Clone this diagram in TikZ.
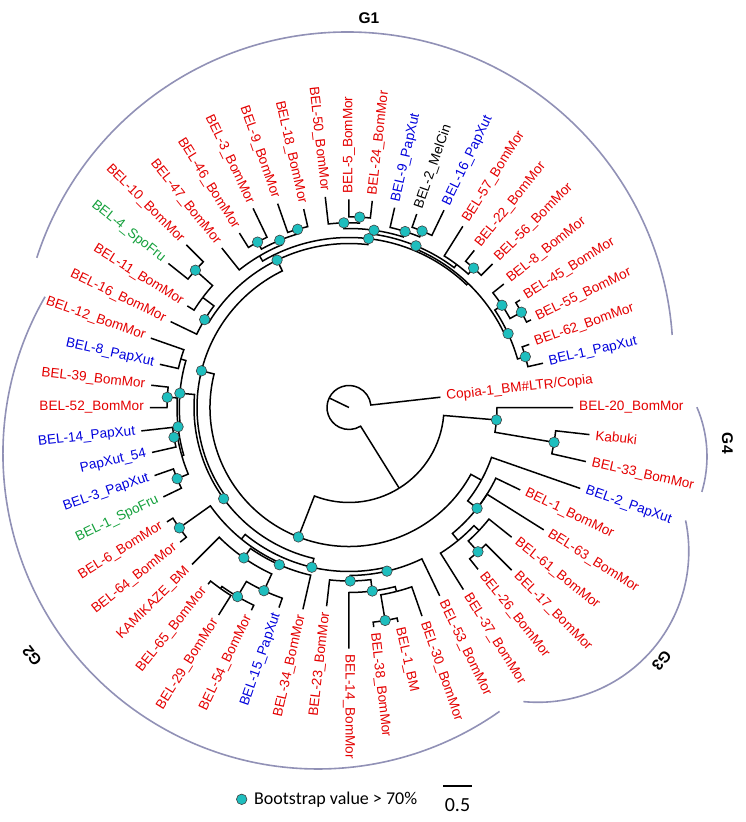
\documentclass[tikz,border=0pt]{standalone}
\usepackage{fontspec}
\setmainfont{Liberation Sans}
\newfontfamily\legfont{Carlito}
\definecolor{lred}{RGB}{228,0,0}
\definecolor{lblue}{RGB}{0,0,220}
\definecolor{lgreen}{RGB}{20,160,60}
\definecolor{lblack}{RGB}{0,0,0}
\definecolor{dotc}{RGB}{30,190,190}
\definecolor{grpc}{RGB}{145,145,182}
\tikzset{
 tbranch/.style={line width=1.5pt, line join=miter},
 lbl/.style={inner sep=0pt, font=\fontsize{13.6}{16}\selectfont},
 bsdot/.style={circle, fill=dotc, draw=black!75, line width=0.6pt, minimum size=10.5pt, inner sep=0pt},
 grparc/.style={draw=grpc, line width=1.6pt},
 grplbl/.style={font=\fontsize{15.5}{18}\selectfont\bfseries, inner sep=0pt},
}
% tree node: name, angle, radius
\newcommand{\TN}[3]{\coordinate (#1) at (#2:#3pt);%
 \expandafter\gdef\csname tA#1\endcsname{#2}%
 \expandafter\gdef\csname tR#1\endcsname{#3}}
% connector parent -> child (arc at parent radius, then radial line)
\newcommand{\TC}[2]{\draw[tbranch] (#1) arc[start angle=\csname tA#1\endcsname, end angle=\csname tA#2\endcsname, radius=\csname tR#1\endcsname pt] -- (#2);}
% leaf: name, angle, tip radius, colour, text
\newcommand{\TL}[5]{\TN{#1}{#2}{#3}\pgfmathsetmacro{\TLr}{#3+6}%
 \ifdim #2pt>90pt
  \ifdim #2pt<270pt
   \node[lbl,text=#4,rotate=#2-180,anchor=east] (#1t) at (#2:\TLr pt) {#5};
  \else
   \node[lbl,text=#4,rotate=#2,anchor=west] (#1t) at (#2:\TLr pt) {#5};
  \fi
 \else
  \node[lbl,text=#4,rotate=#2,anchor=west] (#1t) at (#2:\TLr pt) {#5};
 \fi}
\begin{document}
\begin{tikzpicture}[x=1pt,y=1pt]
\useasboundingbox (-349,-414.5) rectangle (396,407.5);
% group arcs
\draw[grparc] (-2,49.5) ++(4.05:326pt) arc[start angle=4.05,end angle=162.1,radius=326pt];
\draw[grparc] (-31,-46.5) ++(150.05:315pt) arc[start angle=150.05,end angle=305.2,radius=315pt];
\draw[grparc] (188.8,-143.8) ++(11.8:151pt) arc[start angle=11.8,end angle=-95.5,radius=151pt];
\draw[grparc] (233,-48.9) ++(23.2:125pt) arc[start angle=23.2,end angle=-16.5,radius=125pt];
\node[grplbl] (g1) at (20,389.5) {G1};
\node[grplbl,rotate=128] (g2) at (-317,-248.5) {G2};
\node[grplbl,rotate=-129] (g3) at (312.7,-253.3) {G3};
\node[grplbl,rotate=-90] (g4) at (378.5,-35.8) {G4};
% ---------- internal nodes ----------
\TN{O}{0}{0}
\TN{R}{154.2}{22}
\TN{A}{301.9}{95}
\TN{A1}{248.65}{139}
\TN{A2}{355.18}{148}
\TN{K33}{350.36}{208}
\TN{N1}{166.03}{152}
\TN{nG3}{331.26}{151}
\TN{N1a}{116.01}{164}
\TN{N1b}{216.04}{155}
% G1
\TN{nt}{83.37}{170}
\TN{nw}{148.66}{169}
\TN{ny}{46.21}{172}
\TN{nr}{120.54}{176}
\TN{nd}{24.91}{175.4}
\TN{nm}{67.5}{175}
\TN{na}{16.07}{183.5}
\TN{nc}{33.75}{184}
\TN{nb}{28.93}{197}
\TN{nf}{53.04}{179}
\TN{nk}{81.97}{179}
\TN{ne}{48.21}{187}
\TN{ni}{72.32}{184.7}
\TN{nj}{91.61}{184.7}
\TN{nh}{67.5}{191}
\TN{njo}{86.79}{190.7}
\TN{np}{112.5}{181}
\TN{no}{106.07}{185.5}
\TN{nq}{118.93}{189}
\TN{nx}{143.04}{183}
\TN{nu}{138.21}{206}
% G2
\TN{naa}{175.18}{169.7}
\TN{nbt}{256.9}{164}
\TN{nz}{163.93}{175}
\TN{naf}{186.43}{172}
\TN{nab}{176.79}{182}
\TN{nae}{196.07}{174}
\TN{nad}{189.64}{177.5}
\TN{nac}{202.5}{186}
\TN{nai}{230.73}{170}
\TN{nbe}{283.06}{168}
\TN{nah}{215.36}{208}
\TN{nbv}{246.1}{172}
\TN{nbf}{235.05}{183.5}
\TN{nbr}{245.09}{202}
\TN{nbw}{239.47}{219.5}
\TN{nbo}{234.64}{222}
\TN{nbx}{270.4}{173.5}
\TN{nbn}{277.23}{185}
\TN{nbg}{284.47}{190}
\TN{nbs}{279.64}{216}
% G3
\TN{nX}{321.8}{163}
\TN{ngh}{309.38}{172}
\TN{ngc}{316.61}{179}
\TN{ngb}{311.79}{193.5}
% ---------- leaves ----------
\TL{L1}{6.43}{92}{lred}{Copia-1\_BM\#LTR/Copia}
\TL{L2}{12.86}{199}{lblue}{BEL-1\_PapXut}
\TL{L3}{19.29}{191}{lred}{BEL-62\_BomMor}
\TL{L4}{25.71}{202}{lred}{BEL-55\_BomMor}
\TL{L5}{32.14}{202}{lred}{BEL-45\_BomMor}
\TL{L6}{38.57}{198}{lred}{BEL-8\_BomMor}
\TL{L7}{45}{203}{lred}{BEL-56\_BomMor}
\TL{L8}{51.43}{201}{lred}{BEL-22\_BomMor}
\TL{L9}{57.86}{214}{lred}{BEL-57\_BomMor}
\TL{L10}{64.29}{219}{lblue}{BEL-16\_PapXut}
\TL{L11}{70.71}{205}{lblack}{BEL-2\_MelCin}
\TL{L12}{77.14}{205}{lblue}{BEL-9\_PapXut}
\TL{L13}{83.57}{208}{lred}{BEL-24\_BomMor}
\TL{L14}{90}{208}{lred}{BEL-5\_BomMor}
\TL{L15}{96.43}{212}{lred}{BEL-50\_BomMor}
\TL{L16}{102.86}{203.5}{lred}{BEL-18\_BomMor}
\TL{L17}{109.29}{216}{lred}{BEL-9\_BomMor}
\TL{L18}{115.71}{221}{lred}{BEL-3\_BomMor}
\TL{L19}{122.14}{206}{lred}{BEL-46\_BomMor}
\TL{L20}{128.57}{204}{lred}{BEL-47\_BomMor}
\TL{L21}{135}{230}{lred}{BEL-10\_BomMor}
\TL{L22}{141.43}{231}{lgreen}{BEL-4\_SpoFru}
\TL{L23}{147.86}{191}{lred}{BEL-11\_BomMor}
\TL{L24}{154.29}{198}{lred}{BEL-16\_BomMor}
\TL{L25}{160.71}{210}{lred}{BEL-12\_BomMor}
\TL{L26}{167.14}{194}{lblue}{BEL-8\_PapXut}
\TL{L27}{173.57}{199}{lred}{BEL-39\_BomMor}
\TL{L28}{180}{199}{lred}{BEL-52\_BomMor}
\TL{L29}{186.43}{209}{lblue}{BEL-14\_PapXut}
\TL{L30}{192.86}{202}{lblue}{PapXut\_54}
\TL{L31}{199.29}{206}{lblue}{BEL-3\_PapXut}
\TL{L32}{205.71}{206}{lgreen}{BEL-1\_SpoFru}
\TL{L33}{212.14}{215}{lred}{BEL-6\_BomMor}
\TL{L34}{218.57}{216}{lred}{BEL-64\_BomMor}
\TL{L35}{225}{222}{lred}{KAMIKAZE\_BM}
\TL{L36}{231.43}{226}{lred}{BEL-65\_BomMor}
\TL{L37}{237.86}{245}{lred}{BEL-29\_BomMor}
\TL{L38}{244.29}{225}{lred}{BEL-54\_BomMor}
\TL{L39}{250.71}{212}{lblue}{BEL-15\_PapXut}
\TL{L40}{257.14}{207}{lred}{BEL-34\_BomMor}
\TL{L41}{263.57}{200}{lred}{BEL-23\_BomMor}
\TL{L42}{270}{241}{lred}{BEL-14\_BomMor}
\TL{L43}{276.43}{221}{lred}{BEL-38\_BomMor}
\TL{L44}{282.86}{220}{lred}{BEL-1\_BM}
\TL{L45}{289.29}{221}{lred}{BEL-30\_BomMor}
\TL{L46}{295.71}{209}{lred}{BEL-53\_BomMor}
\TL{L47}{302.14}{215}{lred}{BEL-37\_BomMor}
\TL{L48}{308.57}{207}{lred}{BEL-26\_BomMor}
\TL{L49}{315}{230}{lred}{BEL-17\_BomMor}
\TL{L50}{321.43}{208}{lred}{BEL-61\_BomMor}
\TL{L51}{327.86}{230}{lred}{BEL-63\_BomMor}
\TL{L52}{334.29}{190}{lred}{BEL-1\_BomMor}
\TL{L53}{340.71}{245}{lblue}{BEL-2\_PapXut}
\TL{L54}{347.14}{243}{lred}{BEL-33\_BomMor}
\TL{L55}{353.57}{242}{lred}{Kabuki}
\TL{L56}{360}{224}{lred}{BEL-20\_BomMor}
% ---------- connectors ----------
\draw[tbranch] (O) -- (R);
\TC{R}{L1} \TC{R}{A}
\TC{A}{A1} \TC{A}{A2}
\TC{A2}{K33} \TC{A2}{L56}
\TC{K33}{L55} \TC{K33}{L54}
\TC{A1}{N1} \TC{A1}{nG3}
\TC{N1}{N1a} \TC{N1}{N1b}
% G1
\TC{N1a}{nt} \TC{N1a}{nw}
\TC{nt}{ny} \TC{nt}{nr}
\TC{ny}{nd} \TC{ny}{nm}
\TC{nd}{na} \TC{nd}{nc}
\TC{na}{L2} \TC{na}{L3}
\TC{nc}{nb} \TC{nc}{L6}
\TC{nb}{L4} \TC{nb}{L5}
\TC{nm}{nf} \TC{nm}{nk}
\TC{nf}{ne} \TC{nf}{L9}
\TC{ne}{L7} \TC{ne}{L8}
\TC{nk}{ni} \TC{nk}{nj}
\TC{ni}{nh} \TC{ni}{L12}
\TC{nh}{L10} \TC{nh}{L11}
\TC{nj}{njo} \TC{nj}{L15}
\TC{njo}{L13} \TC{njo}{L14}
\TC{nr}{np} \TC{nr}{L20}
\TC{np}{no} \TC{np}{nq}
\TC{no}{L16} \TC{no}{L17}
\TC{nq}{L18} \TC{nq}{L19}
\TC{nw}{nx} \TC{nw}{L24}
\TC{nx}{nu} \TC{nx}{L23}
\TC{nu}{L21} \TC{nu}{L22}
% G2
\TC{N1b}{naa} \TC{N1b}{nbt}
\TC{naa}{nz} \TC{naa}{naf}
\TC{nz}{L25} \TC{nz}{L26}
\TC{naf}{nab} \TC{naf}{nae}
\TC{nab}{L27} \TC{nab}{L28}
\TC{nae}{nad} \TC{nae}{nac}
\TC{nad}{L29} \TC{nad}{L30}
\TC{nac}{L31} \TC{nac}{L32}
\TC{nbt}{nai} \TC{nbt}{nbe}
\TC{nai}{nah} \TC{nai}{nbv}
\TC{nah}{L33} \TC{nah}{L34}
\TC{nbv}{nbf} \TC{nbv}{L40}
\TC{nbf}{L35} \TC{nbf}{nbr}
\TC{nbr}{nbw} \TC{nbr}{L39}
\TC{nbw}{nbo} \TC{nbw}{L38}
\TC{nbo}{L36} \TC{nbo}{L37}
\TC{nbe}{nbx} \TC{nbe}{L46}
\TC{nbx}{L41} \TC{nbx}{nbn}
\TC{nbn}{L42} \TC{nbn}{nbg}
\TC{nbg}{nbs} \TC{nbg}{L45}
\TC{nbs}{L43} \TC{nbs}{L44}
% G3
\TC{nG3}{nX} \TC{nG3}{L53}
\TC{nX}{ngh} \TC{nX}{L51} \TC{nX}{L52}
\TC{ngh}{L47} \TC{ngh}{ngc}
\TC{ngc}{ngb} \TC{ngc}{L50}
\TC{ngb}{L48} \TC{ngb}{L49}
% ---------- bootstrap dots ----------
\foreach \d in {A1,A2,K33,N1,N1a,N1b,na,nb,nc,nd,ne,nh,ni,njo,nj,nk,nm,no,nq,np,nt,nu,nw,
  naa,nab,naf,nad,nac,nah,nbw,nbr,nbf,nbv,nbs,nbn,nbx,nbe,nbt,ngb,nX}
  \node[bsdot] (d\d) at (\d) {};
% ---------- legend ----------
\node[bsdot] (legdot) at (-107.3,-391.8) {};
\node[anchor=west,inner sep=0pt,font=\legfont\fontsize{18}{21}\selectfont] (legtxt) at (-95,-391.8) {Bootstrap value > 70\%};
\coordinate (sba) at (94.3,-378.5);
\coordinate (sbb) at (122.7,-378.5);
\draw[line width=2pt] (sba) -- (sbb);
\node[font=\legfont\fontsize{20}{22}\selectfont,inner sep=0pt] (sbl) at (108.5,-397.5) {0.5};
\end{tikzpicture}
\end{document}
